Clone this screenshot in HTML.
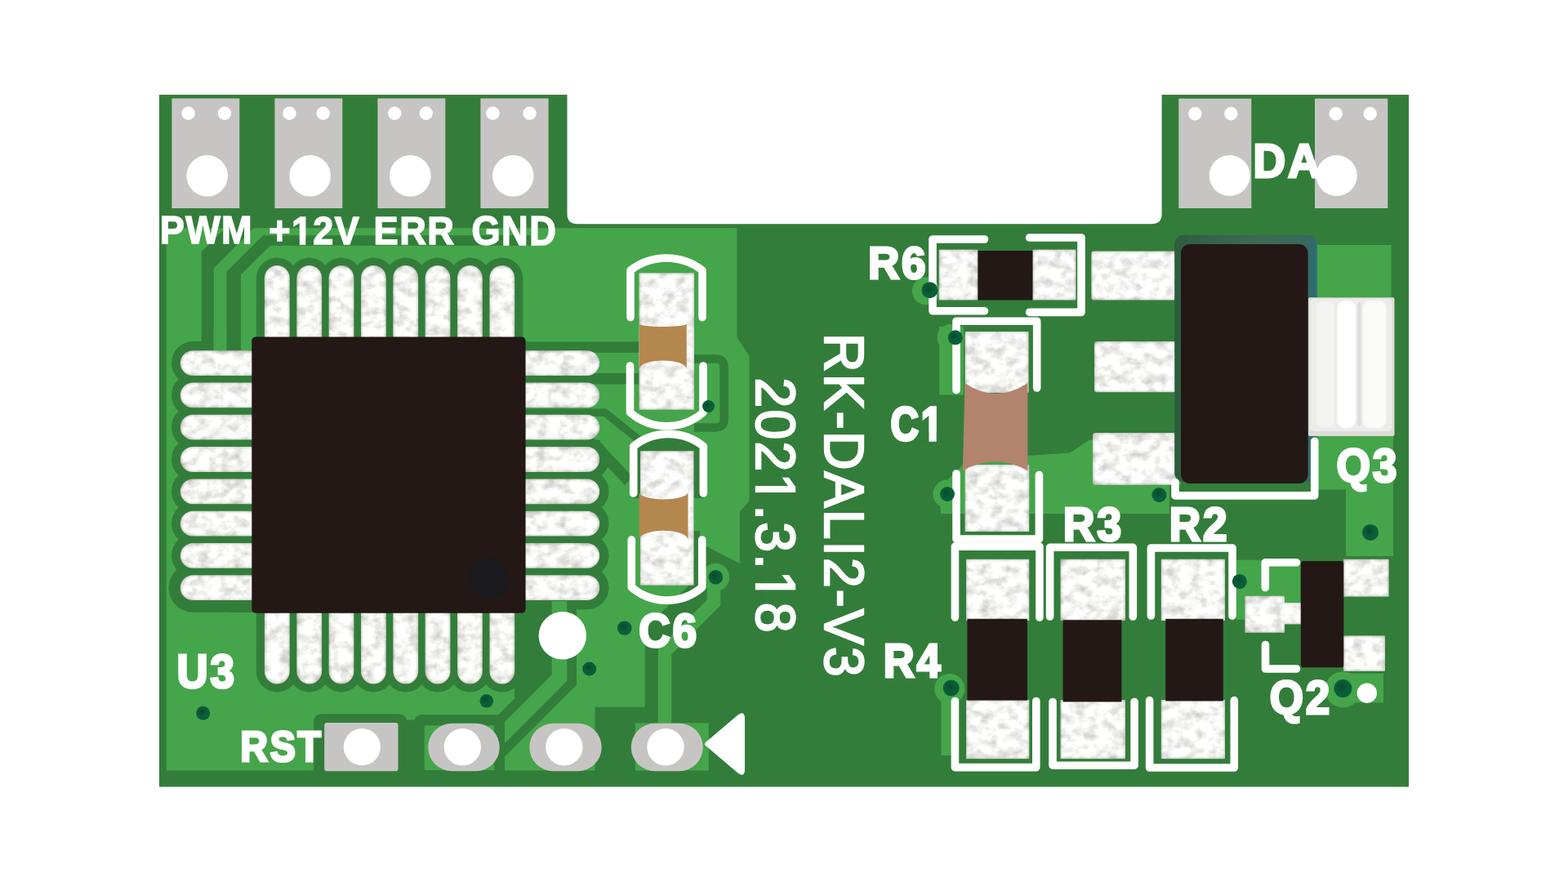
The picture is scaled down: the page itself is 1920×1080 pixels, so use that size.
<!DOCTYPE html>
<html lang="en"><head><meta charset="utf-8"><title>RK-DALI2-V3 PCB</title>
<style>
html,body{margin:0;padding:0;background:#fff;width:1920px;height:1080px;overflow:hidden}
svg{display:block}
text{font-family:"Liberation Sans",sans-serif;font-kerning:none}
</style></head><body>
<svg width="1920" height="1080" viewBox="0 0 1920 1080">
<defs>
<radialGradient id="via" cx="0.42" cy="0.4" r="0.62"><stop offset="0" stop-color="#06492c"/><stop offset="0.5" stop-color="#0a5c38"/><stop offset="0.85" stop-color="#0b6039"/><stop offset="1" stop-color="#0a5533"/></radialGradient>
<linearGradient id="q3f" x1="0" y1="0" x2="1" y2="0"><stop offset="0" stop-color="#2b5d3c"/><stop offset="0.15" stop-color="#355f48"/><stop offset="0.6" stop-color="#3d6a55"/><stop offset="0.93" stop-color="#37695e"/><stop offset="1" stop-color="#2a6c78"/></linearGradient>
<filter id="sd" x="-5%" y="-5%" width="110%" height="110%" color-interpolation-filters="sRGB">
<feTurbulence type="fractalNoise" baseFrequency="0.07 0.085" numOctaves="3" seed="11" result="n"/>
<feColorMatrix in="n" type="matrix" values="0.42 0 0 0 0.755  0.42 0 0 0 0.755  0.42 0 0 0 0.745  0 0 0 0 1" result="g"/>
<feGaussianBlur in="SourceAlpha" stdDeviation="2.2" result="ab"/>
<feColorMatrix in="ab" type="matrix" values="0 0 0 0.36 0.65  0 0 0 0.36 0.65  0 0 0 0.36 0.645  0 0 0 0 1" result="e"/>
<feBlend in="g" in2="e" mode="multiply" result="m"/>
<feComposite in="m" in2="SourceGraphic" operator="in" result="c"/>
<feGaussianBlur in="c" stdDeviation="0.75"/>
</filter>
</defs>
<rect width="1920" height="1080" fill="#fff"/>
<path d="M195,116 H694.5 V262 Q694.5,274.3 707,274.3 H1410 Q1422.6,274.3 1422.6,262 V116 H1725 V963.5 H195 Z" fill="#337d3a" />
<g fill="#45a54a">
<polygon points="203.7,279.2 902.5,279.2 902.5,413.3 917.5,436.0 917.5,613.3 905.9,626.7 905.9,690.0 866.0,669.6 848.0,665.0 848.0,712.0 789.6,770.4 789.6,865.7 728.5,865.7 728.5,944.0 203.7,944.0" fill="#45a54a" />
<rect x="777.8" y="885.3" width="90.0" height="59.1" fill="#45a54a" />
<path d="M814.0,890.0 L814.0,798.0 L874.0,738.0 L874.0,707.0" fill="none" stroke="#45a54a" stroke-width="16.5" stroke-linecap="butt" stroke-linejoin="miter" />
<circle cx="876.3" cy="706.7" r="17.0" fill="#45a54a" />
<rect x="1150.2" y="400.0" width="29.8" height="83.5" fill="#45a54a" />
<circle cx="1164.0" cy="413.4" r="16.5" fill="#45a54a" />
<circle cx="1133.8" cy="356.2" r="17.0" fill="#45a54a" />
<circle cx="1160.0" cy="605.0" r="17.5" fill="#45a54a" />
<polygon points="1150.0,600.0 1160.0,588.0 1178.8,569.4 1258.4,558.1 1310.0,554.4 1334.4,538.4 1446.0,538.4 1446.0,594.0 1431.8,594.0 1431.8,629.0 1152.0,629.0" fill="#45a54a" />
<rect x="1612.5" y="300.0" width="91.1" height="64.0" fill="#45a54a" />
<polygon points="1612.0,534.0 1706.0,534.0 1706.0,681.0 1648.0,681.0 1648.0,599.5 1612.0,599.5" fill="#45a54a" />
<rect x="1514.0" y="685.6" width="78.5" height="73.2" fill="#45a54a" />
<circle cx="1162.8" cy="843.4" r="18.5" fill="#45a54a" />
<rect x="1152.5" y="843.0" width="12.5" height="82.0" fill="#45a54a" />
<circle cx="1644.4" cy="844.4" r="22.0" fill="#45a54a" />
<rect x="1644.0" y="824.7" width="50.0" height="35.6" fill="#45a54a" />
</g>
<g fill="none" stroke="#337d3a" stroke-linecap="round" stroke-linejoin="round">
<path d="M339.3,341 V412" stroke-width="51"/>
<path d="M339.3,751 V822" stroke-width="51"/>
<path d="M378.7,341 V412" stroke-width="51"/>
<path d="M378.7,751 V822" stroke-width="51"/>
<path d="M418.0,341 V412" stroke-width="51"/>
<path d="M418.0,751 V822" stroke-width="51"/>
<path d="M457.4,341 V412" stroke-width="51"/>
<path d="M457.4,751 V822" stroke-width="51"/>
<path d="M496.7,341 V412" stroke-width="51"/>
<path d="M496.7,751 V822" stroke-width="51"/>
<path d="M536.0,341 V412" stroke-width="51"/>
<path d="M536.0,751 V822" stroke-width="51"/>
<path d="M575.4,341 V412" stroke-width="51"/>
<path d="M575.4,751 V822" stroke-width="51"/>
<path d="M614.8,341 V412" stroke-width="51"/>
<path d="M614.8,751 V822" stroke-width="51"/>
<path d="M236.5,444.6 H308" stroke-width="53"/>
<path d="M236.5,483.9 H308" stroke-width="53"/>
<path d="M236.5,523.2 H308" stroke-width="53"/>
<path d="M236.5,562.5 H308" stroke-width="53"/>
<path d="M644,562.5 H719" stroke-width="53"/>
<path d="M236.5,601.8 H308" stroke-width="53"/>
<path d="M644,601.8 H719" stroke-width="53"/>
<path d="M236.5,641.1 H308" stroke-width="53"/>
<path d="M644,641.1 H719" stroke-width="53"/>
<path d="M236.5,680.4 H308" stroke-width="53"/>
<path d="M644,680.4 H719" stroke-width="53"/>
<path d="M236.5,719.7 H308" stroke-width="60"/>
<path d="M644,719.7 H719" stroke-width="53"/>
</g>
<polygon points="246.7,425.0 246.7,308.3 275.8,279.2 275.8,278.0 310.8,278.0 310.8,279.2 261.7,328.3 261.7,425.0" fill="#337d3a" />
<polygon points="277.3,430.0 277.3,333.0 322.0,288.3 650.0,288.3 650.0,300.8 330.8,300.8 295.0,336.5 295.0,430.0" fill="#337d3a" />
<rect x="280.0" y="735.0" width="34.0" height="15.0" fill="#337d3a" />
<polygon points="630.0,745.0 690.0,745.0 690.0,800.0 636.0,854.0 630.0,854.0" fill="#337d3a" />
<rect x="261.7" y="405.0" width="15.6" height="24.0" fill="#45a54a" />
<rect x="295.0" y="405.0" width="13.3" height="24.0" fill="#45a54a" />
<path d="M685.0,740.0 L685.0,830.0 L600.0,915.0" fill="none" stroke="#337d3a" stroke-width="42.0" stroke-linecap="butt" stroke-linejoin="miter" />
<rect x="605.0" y="900.0" width="12.0" height="44.0" fill="#337d3a" />
<path d="M685.0,736.0 L685.0,830.0 L600.0,915.0" fill="none" stroke="#45a54a" stroke-width="18.6" stroke-linecap="butt" stroke-linejoin="miter" />
<rect x="384.2" y="874.2" width="113.8" height="75.8" fill="#337d3a" rx="9.0" />
<rect x="507.0" y="875.0" width="111.0" height="75.0" fill="#337d3a" rx="9.0" />
<rect x="384.2" y="930.0" width="233.8" height="14.2" fill="#337d3a" />
<rect x="490.0" y="881.5" width="25.0" height="62.5" fill="#337d3a" />
<rect x="519.7" y="888.3" width="85.3" height="54.9" fill="#45a54a" />
<rect x="203.0" y="943.5" width="667.0" height="2.5" fill="#337d3a" />
<path d="M845,439.6 H876.6 Q886.6,439.6 886.6,449.6 V513.4 Q886.6,523.4 876.6,523.4 H850" fill="none" stroke="#337d3a" stroke-width="10.5" stroke-linecap="butt" stroke-linejoin="round" />
<rect x="643.0" y="418.5" width="140.0" height="13.4" fill="#337d3a" />
<rect x="643.0" y="457.0" width="140.0" height="13.4" fill="#337d3a" />
<path d="M643.0,505.3 L741.0,505.3 L781.0,537.5" fill="none" stroke="#337d3a" stroke-width="9.5" stroke-linecap="butt" stroke-linejoin="miter" />
<path d="M728.0,545.0 L770.0,589.0" fill="none" stroke="#337d3a" stroke-width="14.0" stroke-linecap="butt" stroke-linejoin="round" />
<rect x="643.0" y="539.0" width="92.0" height="9.0" fill="#337d3a" />
<path d="M775.7,610 V546 A68,68 0 0 1 861.3,546 V610 Z" fill="#337d3a" />
<rect x="849.0" y="650.0" width="8.0" height="72.0" fill="#337d3a" />
<rect x="210.4" y="120.5" width="82.9" height="134.5" fill="#c7c5c4" />
<rect x="336.4" y="120.5" width="82.9" height="134.5" fill="#c7c5c4" />
<rect x="462.4" y="120.5" width="82.9" height="134.5" fill="#c7c5c4" />
<rect x="588.4" y="120.5" width="83.2" height="134.5" fill="#c7c5c4" />
<rect x="1443.3" y="120.7" width="89.0" height="134.3" fill="#c7c5c4" />
<rect x="1610.0" y="120.7" width="89.3" height="134.3" fill="#c7c5c4" />
<circle cx="230.6" cy="138.7" r="8.2" fill="#ffffff" />
<circle cx="275.0" cy="138.7" r="8.2" fill="#ffffff" />
<circle cx="354.4" cy="138.7" r="8.2" fill="#ffffff" />
<circle cx="395.7" cy="138.7" r="8.2" fill="#ffffff" />
<circle cx="483.2" cy="138.7" r="8.2" fill="#ffffff" />
<circle cx="521.7" cy="138.7" r="8.2" fill="#ffffff" />
<circle cx="603.5" cy="138.7" r="8.2" fill="#ffffff" />
<circle cx="648.5" cy="138.7" r="8.2" fill="#ffffff" />
<circle cx="1463.3" cy="139.2" r="8.2" fill="#ffffff" />
<circle cx="1507.3" cy="139.2" r="8.2" fill="#ffffff" />
<circle cx="1635.7" cy="139.2" r="8.2" fill="#ffffff" />
<circle cx="1677.7" cy="139.2" r="8.2" fill="#ffffff" />
<circle cx="253.7" cy="215.3" r="25.3" fill="#ffffff" />
<circle cx="379.7" cy="215.3" r="25.3" fill="#ffffff" />
<circle cx="502.3" cy="215.3" r="25.3" fill="#ffffff" />
<circle cx="628.3" cy="215.3" r="25.3" fill="#ffffff" />
<circle cx="1505.7" cy="215.0" r="25.0" fill="#ffffff" />
<circle cx="1636.7" cy="215.0" r="25.0" fill="#ffffff" />
<rect x="397.2" y="885.0" width="90.3" height="59.2" fill="#c7c5c4" rx="3.0" />
<circle cx="443.3" cy="914.7" r="22.6" fill="#ffffff" />
<rect x="524.2" y="885.8" width="87.5" height="58.4" fill="#c7c5c4" rx="29.2" />
<circle cx="566.3" cy="914.7" r="22.7" fill="#ffffff" />
<rect x="648.3" y="885.8" width="88.4" height="58.4" fill="#c7c5c4" rx="29.2" />
<circle cx="690.8" cy="914.7" r="22.7" fill="#ffffff" />
<rect x="772.8" y="885.8" width="88.0" height="58.4" fill="#c7c5c4" rx="29.2" />
<circle cx="815.0" cy="914.7" r="22.7" fill="#ffffff" />
<circle cx="688.8" cy="778.3" r="29.2" fill="#ffffff" />
<circle cx="1673.8" cy="848.7" r="12.2" fill="#ffffff" />
<path d="M864.3,913.2 Q861.6,911 864.3,908.7 L903.5,875.5 Q912,869.5 912,880 V942 Q912,952.5 903.5,946.5 Z" fill="#ffffff" />
<g filter="url(#sd)">
<path d="M339.3,340.4 L339.3,415.0" fill="none" stroke="#eee" stroke-width="30.8" stroke-linecap="round" stroke-linejoin="round" />
<path d="M339.3,748.0 L339.3,822.1" fill="none" stroke="#eee" stroke-width="30.8" stroke-linecap="round" stroke-linejoin="round" />
<path d="M378.7,340.4 L378.7,415.0" fill="none" stroke="#eee" stroke-width="30.8" stroke-linecap="round" stroke-linejoin="round" />
<path d="M378.7,748.0 L378.7,822.1" fill="none" stroke="#eee" stroke-width="30.8" stroke-linecap="round" stroke-linejoin="round" />
<path d="M418.0,340.4 L418.0,415.0" fill="none" stroke="#eee" stroke-width="30.8" stroke-linecap="round" stroke-linejoin="round" />
<path d="M418.0,748.0 L418.0,822.1" fill="none" stroke="#eee" stroke-width="30.8" stroke-linecap="round" stroke-linejoin="round" />
<path d="M457.4,340.4 L457.4,415.0" fill="none" stroke="#eee" stroke-width="30.8" stroke-linecap="round" stroke-linejoin="round" />
<path d="M457.4,748.0 L457.4,822.1" fill="none" stroke="#eee" stroke-width="30.8" stroke-linecap="round" stroke-linejoin="round" />
<path d="M496.7,340.4 L496.7,415.0" fill="none" stroke="#eee" stroke-width="30.8" stroke-linecap="round" stroke-linejoin="round" />
<path d="M496.7,748.0 L496.7,822.1" fill="none" stroke="#eee" stroke-width="30.8" stroke-linecap="round" stroke-linejoin="round" />
<path d="M536.0,340.4 L536.0,415.0" fill="none" stroke="#eee" stroke-width="30.8" stroke-linecap="round" stroke-linejoin="round" />
<path d="M536.0,748.0 L536.0,822.1" fill="none" stroke="#eee" stroke-width="30.8" stroke-linecap="round" stroke-linejoin="round" />
<path d="M575.4,340.4 L575.4,415.0" fill="none" stroke="#eee" stroke-width="30.8" stroke-linecap="round" stroke-linejoin="round" />
<path d="M575.4,748.0 L575.4,822.1" fill="none" stroke="#eee" stroke-width="30.8" stroke-linecap="round" stroke-linejoin="round" />
<path d="M614.8,340.4 L614.8,415.0" fill="none" stroke="#eee" stroke-width="30.8" stroke-linecap="round" stroke-linejoin="round" />
<path d="M614.8,748.0 L614.8,822.1" fill="none" stroke="#eee" stroke-width="30.8" stroke-linecap="round" stroke-linejoin="round" />
<path d="M236.2,444.6 L312.0,444.6" fill="none" stroke="#eee" stroke-width="30.8" stroke-linecap="round" stroke-linejoin="round" />
<path d="M640.0,444.6 L718.8,444.6" fill="none" stroke="#eee" stroke-width="30.8" stroke-linecap="round" stroke-linejoin="round" />
<path d="M236.2,483.9 L312.0,483.9" fill="none" stroke="#eee" stroke-width="30.8" stroke-linecap="round" stroke-linejoin="round" />
<path d="M640.0,483.9 L718.8,483.9" fill="none" stroke="#eee" stroke-width="30.8" stroke-linecap="round" stroke-linejoin="round" />
<path d="M236.2,523.2 L312.0,523.2" fill="none" stroke="#eee" stroke-width="30.8" stroke-linecap="round" stroke-linejoin="round" />
<path d="M640.0,523.2 L718.8,523.2" fill="none" stroke="#eee" stroke-width="30.8" stroke-linecap="round" stroke-linejoin="round" />
<path d="M236.2,562.5 L312.0,562.5" fill="none" stroke="#eee" stroke-width="30.8" stroke-linecap="round" stroke-linejoin="round" />
<path d="M640.0,562.5 L718.8,562.5" fill="none" stroke="#eee" stroke-width="30.8" stroke-linecap="round" stroke-linejoin="round" />
<path d="M236.2,601.8 L312.0,601.8" fill="none" stroke="#eee" stroke-width="30.8" stroke-linecap="round" stroke-linejoin="round" />
<path d="M640.0,601.8 L718.8,601.8" fill="none" stroke="#eee" stroke-width="30.8" stroke-linecap="round" stroke-linejoin="round" />
<path d="M236.2,641.1 L312.0,641.1" fill="none" stroke="#eee" stroke-width="30.8" stroke-linecap="round" stroke-linejoin="round" />
<path d="M640.0,641.1 L718.8,641.1" fill="none" stroke="#eee" stroke-width="30.8" stroke-linecap="round" stroke-linejoin="round" />
<path d="M236.2,680.4 L312.0,680.4" fill="none" stroke="#eee" stroke-width="30.8" stroke-linecap="round" stroke-linejoin="round" />
<path d="M640.0,680.4 L718.8,680.4" fill="none" stroke="#eee" stroke-width="30.8" stroke-linecap="round" stroke-linejoin="round" />
<path d="M236.2,719.7 L312.0,719.7" fill="none" stroke="#eee" stroke-width="30.8" stroke-linecap="round" stroke-linejoin="round" />
<path d="M640.0,719.7 L718.8,719.7" fill="none" stroke="#eee" stroke-width="30.8" stroke-linecap="round" stroke-linejoin="round" />
<rect x="782.5" y="334.2" width="67.5" height="167.5" fill="#eee" />
<rect x="784.0" y="552.2" width="65.6" height="164.5" fill="#eee" />
<rect x="1149.7" y="305.6" width="47.8" height="61.9" fill="#eee" />
<rect x="1264.4" y="305.6" width="53.1" height="61.9" fill="#eee" />
<rect x="1181.6" y="406.0" width="78.0" height="75.0" fill="#eee" />
<rect x="1181.6" y="569.0" width="78.7" height="82.0" fill="#eee" />
<rect x="1183.0" y="684.7" width="77.3" height="75.3" fill="#eee" />
<rect x="1183.0" y="857.0" width="77.3" height="72.2" fill="#eee" />
<rect x="1298.5" y="684.7" width="79.5" height="75.3" fill="#eee" />
<rect x="1298.5" y="857.0" width="79.5" height="72.2" fill="#eee" />
<rect x="1421.8" y="684.7" width="78.2" height="75.3" fill="#eee" />
<rect x="1421.8" y="857.0" width="78.2" height="72.2" fill="#eee" />
<rect x="1336.3" y="307.5" width="103.7" height="60.0" fill="#eee" rx="3.0" />
<rect x="1340.0" y="418.1" width="104.0" height="62.2" fill="#eee" rx="3.0" />
<rect x="1338.0" y="530.0" width="102.0" height="63.7" fill="#eee" rx="3.0" />
<rect x="1524.4" y="729.7" width="48.6" height="45.0" fill="#eee" />
<rect x="1570.0" y="738.0" width="24.0" height="26.4" fill="#eee" />
<rect x="1645.0" y="684.7" width="55.6" height="45.9" fill="#eee" />
<rect x="1645.0" y="778.4" width="51.0" height="43.5" fill="#eee" />
</g>
<rect x="308.3" y="412.4" width="335.3" height="338.4" fill="#231815" rx="5.0" />
<circle cx="599.0" cy="708.0" r="24.5" fill="#1a191d" />
<path d="M782.8,396.6 A29,3.5 0 0 0 840.8,396.6 V452 A29,10.5 0 0 0 782.8,452 Z" fill="#b4874f" />
<path d="M782.6,603 A30,9 0 0 0 842.5,603 V660.5 A30,11.5 0 0 0 782.6,660.5 Z" fill="#b4874f" />
<path d="M1181.5,469 Q1219,495 1258.4,469 V576.5 Q1219,554 1178.8,576.5 Z" fill="#b2846d" />
<rect x="1197.5" y="307.0" width="66.9" height="60.5" fill="#231815" />
<rect x="1184.4" y="757.8" width="73.5" height="99.8" fill="#231815" />
<rect x="1301.6" y="759.2" width="71.8" height="100.2" fill="#231815" />
<rect x="1427.2" y="757.8" width="70.6" height="100.6" fill="#231815" />
<rect x="1438.2" y="287.8" width="174.3" height="302.2" fill="url(#q3f)" rx="11.0" />
<rect x="1602.0" y="364.2" width="105.5" height="169.8" fill="#dddcd8" rx="2.0" />
<rect x="1604.0" y="365.5" width="100.5" height="162.5" fill="#ececea" rx="5.0" />
<rect x="1612.0" y="369.0" width="22.0" height="154.0" fill="#f3f3f2" rx="8.0" />
<rect x="1637.5" y="368.0" width="22.5" height="156.0" fill="#ffffff" rx="9.0" />
<rect x="1662.5" y="370.0" width="4.0" height="152.0" fill="#dcdcda" rx="2.0" />
<rect x="1668.5" y="368.0" width="28.5" height="156.0" fill="#fbfbfa" rx="9.0" />
<rect x="1446.0" y="299.0" width="155.6" height="292.9" fill="#231815" rx="11.0" />
<rect x="1592.8" y="687.1" width="52.5" height="130.1" fill="#231815" rx="3.0" />
<g fill="none" stroke="#fff" stroke-width="9.6" stroke-linecap="round" stroke-linejoin="round">
<path d="M772,388.6 V331 A72,72 0 0 1 860,331 V388.6" stroke-linejoin="round"/>
<path d="M771.5,448 V505 A68,68 0 0 0 861,505 V448" stroke-linejoin="round"/>
<path d="M775.7,604 V546.5 A68,68 0 0 1 861.3,546.5 V604" stroke-linejoin="round"/>
<path d="M773.3,661 V719 A66,66 0 0 0 859.7,719 V661" stroke-linejoin="round"/>
<path d="M1205.5,293 H1142 V380.8 H1205.5"/>
<path d="M1260.6,291 H1324 V382.4 H1260.6"/>
<path d="M1171,477.5 V393.2 H1269.7 V475"/>
<path d="M1171,580 V660 H1272.4 V581.5"/>
<path d="M1169.4,756 V669.1 H1272.9 V756"/>
<path d="M1169.4,858.5 V939.6 H1268.8 V858.5"/>
<path d="M1285.6,755 V670.3 H1387.3 V755"/>
<path d="M1289,859.5 V937.2 H1389.1 V859.5"/>
<path d="M1409.4,754 V671 H1509 V754"/>
<path d="M1407.6,857.6 V940 H1511.3 V857.6"/>
<path d="M1439,590.5 V606.9 H1609.7 V540.3"/>
<path d="M1587.5,688.8 H1549.3 V719.5"/>
<path d="M1549.5,789.5 V819 H1587.5"/>
</g>
<g id="silk-text" opacity="0.999">
<g transform="translate(195.67,298.10) scale(1,1.0667)"><text font-size="45.11" font-weight="bold" letter-spacing="1.40" fill="#ffffff" stroke="#ffffff" stroke-width="1.40">PWM</text></g>
<g transform="translate(329.30,299.30) scale(1,1.0685)"><text font-size="44.92" font-weight="bold" letter-spacing="1.40" fill="#ffffff" stroke="#ffffff" stroke-width="1.40">+12V</text><rect x="28.26" y="-6.25" width="9.24" height="7.70" fill="#337d3a"/><rect x="44.96" y="-6.25" width="8.79" height="7.70" fill="#337d3a"/></g>
<g transform="translate(457.56,299.30) scale(1,1.0634)"><text font-size="45.25" font-weight="bold" letter-spacing="1.40" fill="#ffffff" stroke="#ffffff" stroke-width="1.40">ERR</text></g>
<g transform="translate(577.59,299.61) scale(1,1.0909)"><text font-size="45.19" font-weight="bold" letter-spacing="1.40" fill="#ffffff" stroke="#ffffff" stroke-width="1.40">GND</text></g>
<g transform="translate(1534.43,217.00) scale(1,1.0468)"><text font-size="54.96" font-weight="bold" letter-spacing="2.80" fill="#ffffff" stroke="#ffffff" stroke-width="2.80">DA</text></g>
<g transform="translate(1062.95,341.15) scale(1,1.0370)"><text font-size="53.11" font-weight="bold" letter-spacing="2.80" fill="#ffffff" stroke="#ffffff" stroke-width="2.80">R6</text></g>
<g transform="translate(1090.60,539.02) scale(1,1.2122)"><text font-size="47.52" font-weight="bold" letter-spacing="2.80" fill="#ffffff" stroke="#ffffff" stroke-width="2.80">C1</text><rect x="37.20" y="-7.23" width="9.68" height="10.43" fill="#337d3a"/><rect x="56.09" y="-7.23" width="9.20" height="10.43" fill="#337d3a"/></g>
<g transform="translate(782.17,791.93) scale(1,1.0659)"><text font-size="53.25" font-weight="bold" letter-spacing="2.80" fill="#ffffff" stroke="#ffffff" stroke-width="2.80">C6</text></g>
<g transform="translate(1301.66,662.42) scale(1,1.0745)"><text font-size="53.74" font-weight="bold" letter-spacing="2.80" fill="#ffffff" stroke="#ffffff" stroke-width="2.80">R3</text></g>
<g transform="translate(1431.69,661.70) scale(1,1.0654)"><text font-size="53.23" font-weight="bold" letter-spacing="2.80" fill="#ffffff" stroke="#ffffff" stroke-width="2.80">R2</text></g>
<g transform="translate(1081.78,828.60) scale(1,1.0919)"><text font-size="52.56" font-weight="bold" letter-spacing="2.80" fill="#ffffff" stroke="#ffffff" stroke-width="2.80">R4</text></g>
<g transform="translate(1636.57,589.82) scale(1,1.0701)"><text font-size="53.31" font-weight="bold" letter-spacing="2.80" fill="#ffffff" stroke="#ffffff" stroke-width="2.80">Q3</text></g>
<g transform="translate(1554.78,874.12) scale(1,1.0670)"><text font-size="53.07" font-weight="bold" letter-spacing="2.80" fill="#ffffff" stroke="#ffffff" stroke-width="2.80">Q2</text></g>
<g transform="translate(216.42,842.22) scale(1,1.0903)"><text font-size="52.97" font-weight="bold" letter-spacing="2.80" fill="#ffffff" stroke="#ffffff" stroke-width="2.80">U3</text></g>
<g transform="translate(294.37,931.88) scale(1,1.1136)"><text font-size="46.55" font-weight="bold" letter-spacing="2.80" fill="#ffffff" stroke="#ffffff" stroke-width="2.80">RST</text></g>
<g transform="translate(1009.78,408.04) rotate(90) scale(1,1.0342)"><text font-size="65.78" font-weight="normal" letter-spacing="2.20" fill="#fff" stroke="#fff" stroke-width="2.20">RK-DALI2-V3</text></g>
<g transform="translate(926.18,462.49) rotate(90) scale(1,1.0297)"><text font-size="66.20" font-weight="normal" letter-spacing="2.20" fill="#fff" stroke="#fff" stroke-width="2.20">2021.3.18</text><rect x="119.29" y="-6.96" width="13.18" height="9.86" fill="#337d3a"/><rect x="140.63" y="-6.96" width="12.52" height="9.86" fill="#337d3a"/><rect x="238.51" y="-6.96" width="13.18" height="9.86" fill="#337d3a"/><rect x="259.85" y="-6.96" width="12.52" height="9.86" fill="#337d3a"/></g>
</g>
<circle cx="248.7" cy="873.3" r="8.5" fill="url(#via)" />
<circle cx="595.8" cy="858.3" r="8.3" fill="url(#via)" />
<circle cx="721.7" cy="819.0" r="8.5" fill="url(#via)" />
<circle cx="764.7" cy="769.0" r="8.8" fill="url(#via)" />
<circle cx="876.3" cy="706.7" r="8.8" fill="url(#via)" />
<circle cx="867.5" cy="497.5" r="7.5" fill="url(#via)" />
<circle cx="1138.4" cy="355.3" r="10.0" fill="url(#via)" />
<circle cx="1169.8" cy="413.3" r="9.0" fill="url(#via)" />
<circle cx="1160.0" cy="605.0" r="9.0" fill="url(#via)" />
<circle cx="1419.4" cy="606.0" r="9.0" fill="url(#via)" />
<circle cx="1517.8" cy="711.9" r="9.0" fill="url(#via)" />
<circle cx="1678.0" cy="651.9" r="10.0" fill="url(#via)" />
<circle cx="1164.7" cy="842.5" r="10.0" fill="url(#via)" />
<circle cx="1644.4" cy="843.0" r="11.0" fill="url(#via)" />
</svg>
</body></html>
